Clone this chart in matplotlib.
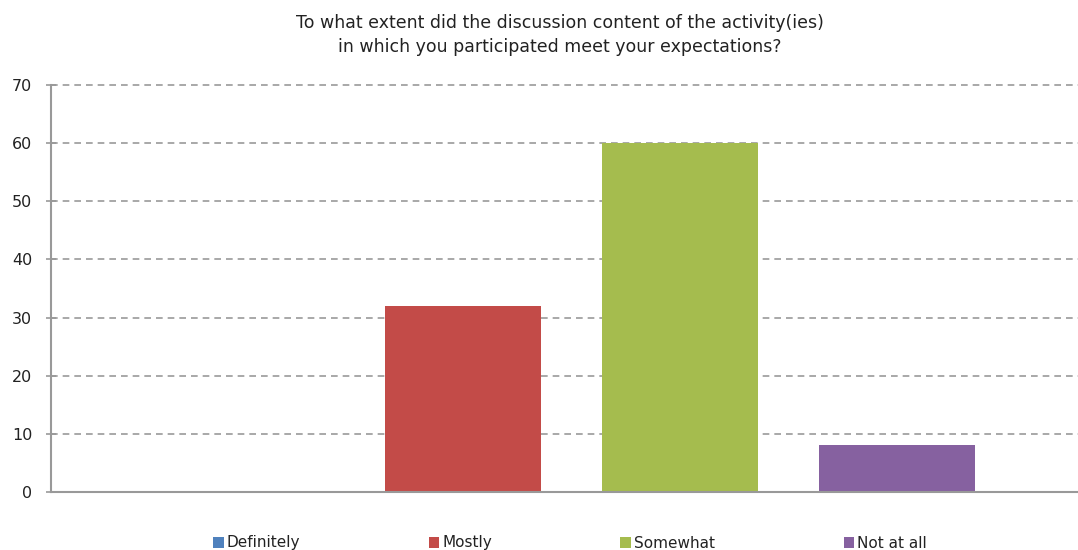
import matplotlib
matplotlib.use("Agg")
import matplotlib.pyplot as plt
from matplotlib.patches import Patch

title = "To what extent did the discussion content of the activity(ies)\nin which you participated meet your expectations?"
series = ["Definitely", "Mostly", "Somewhat", "Not at all"]
values = [0, 32, 60, 8]
colors = ["#4F81BD", "#C34B48", "#A5BC4E", "#8661A0"]
yticks = [0, 10, 20, 30, 40, 50, 60, 70]

plt.rcParams['font.family'] = ['DejaVu Sans']

W, H = 1078, 550
fig = plt.figure(figsize=(W/100, H/100), dpi=100)
left, right = 51, 1078
top, bottom = 85, 492
ax = fig.add_axes([left/W, 1-bottom/H, (right-left)/W, (bottom-top)/H])

x = list(range(len(series)))
ax.bar(x, values, width=0.719, color=colors, zorder=3)
ax.set_xlim(-0.899, 3.834)
ax.set_ylim(0, 70)
ax.set_yticks(yticks)
ax.set_yticklabels([str(v) for v in yticks], fontsize=11.5, color="#222222")
ax.set_xticks([])
ax.yaxis.grid(True, linestyle=(0, (4, 3)), color="#999999", linewidth=1.2, zorder=0)
for gl in ax.get_ygridlines():
    gl.set_clip_on(False)
ax.tick_params(axis='y', direction='inout', length=7, width=1.2, color="#999999", pad=10)
for s in ['top', 'right']:
    ax.spines[s].set_visible(False)
for s in ['left', 'bottom']:
    ax.spines[s].set_color("#999999")
    ax.spines[s].set_linewidth(1.5)
ax.spines['left'].set_zorder(4)
ax.spines['bottom'].set_zorder(4)

fig.text(560/W, 1-35/H, title, ha='center', va='center', fontsize=12.5,
         color="#222222", linespacing=1.5)

handles = [Patch(facecolor=c, edgecolor='none') for c in colors]
fig.legend(handles, series, loc='center', bbox_to_anchor=(570/W, 1-543/H), ncol=4,
           frameon=False, fontsize=11, handlelength=0.7, handleheight=0.7,
           handletextpad=0.2, columnspacing=8.4, labelcolor="#222222")

fig.savefig("out.png", dpi=100)
